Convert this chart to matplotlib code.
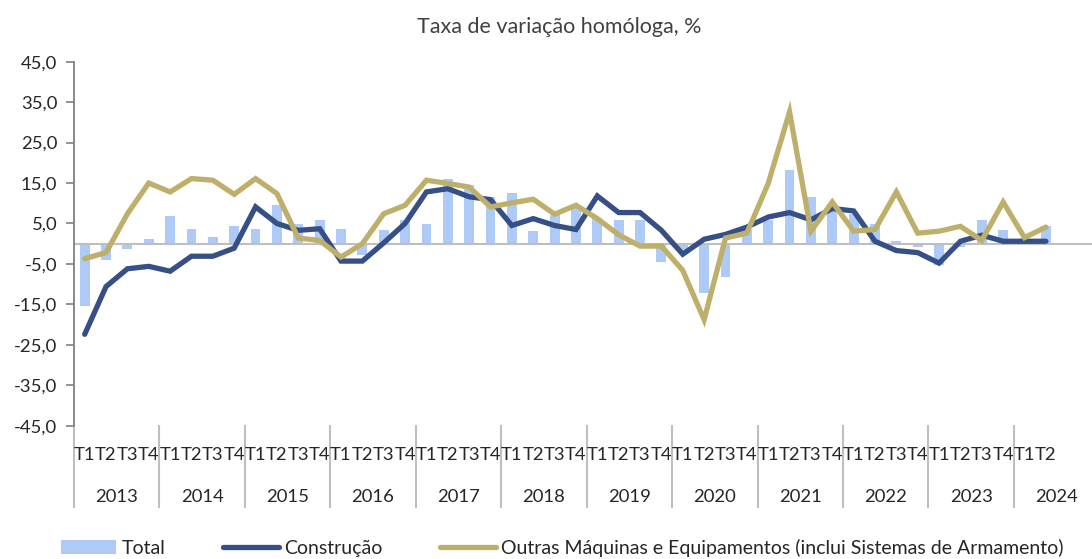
import matplotlib
matplotlib.use("Agg")
import matplotlib.pyplot as plt
from matplotlib.lines import Line2D
from matplotlib.patches import Patch
import numpy as np

years = ["2013", "2014", "2015", "2016", "2017", "2018", "2019", "2020",
         "2021", "2022", "2023", "2024"]
quarters = ["T1", "T2", "T3", "T4"]
n_obs = 46  # 2013T1 .. 2024T2

total = [-15.4, -4.0, -1.4, 1.1, 6.8, 3.7, 1.7, 4.4, 3.7, 9.5, 4.8, 5.8,
         3.7, -2.9, 3.3, 5.8, 4.8, 16.1, 14.6, 11.6, 12.5, 3.2, 7.0, 8.8,
         6.4, 5.8, 5.8, -4.5, -1.7, -12.2, -8.3, 3.3, 5.8, 18.3, 11.6, 8.3,
         7.4, 4.8, 0.6, -0.8, -5.2, -0.8, 5.8, 3.3, 1.5, 4.3]
construcao = [-22.4, -10.6, -6.2, -5.6, -6.8, -3.1, -3.1, -1.1, 9.1, 5.0,
              3.3, 3.7, -4.3, -4.3, 0.2, 5.0, 12.8, 13.6, 11.6, 10.9, 4.5,
              6.2, 4.5, 3.5, 11.8, 7.7, 7.7, 3.3, -2.6, 1.1, 2.3, 4.1, 6.6,
              7.7, 5.9, 8.7, 8.1, 0.6, -1.7, -2.2, -4.8, 0.6, 2.1, 0.6, 0.6,
              0.6]
outras = [-3.7, -2.2, 7.4, 15.0, 12.8, 16.1, 15.7, 12.2, 16.1, 12.4, 1.4,
          0.8, -3.3, 0.0, 7.4, 9.5, 15.7, 14.9, 14.0, 9.1, 10.1, 11.0, 7.3,
          9.5, 6.2, 2.2, -0.6, -0.6, -6.6, -18.8, 1.4, 2.6, 14.9, 32.6, 3.1,
          10.3, 3.1, 3.5, 12.8, 2.6, 3.1, 4.3, 0.8, 10.3, 1.5, 4.1]

title = "Taxa de variação homóloga, %"
labels = ["Total", "Construção",
          "Outras Máquinas e Equipamentos (inclui Sistemas de Armamento)"]

c_total = "#AECBF7"
c_constr = "#364F86"
c_outras = "#BEB06B"
c_grid = "#BFBFBF"
c_text = "#262626"

plt.rcParams["font.family"] = ["Lato", "DejaVu Sans"]
FS = 13.3

W, H = 1092, 559
fig = plt.figure(figsize=(W / 100, H / 100), dpi=100)
left_px, top_px, bottom_px = 74, 61.7, 425.7
n_slots = 48
slot_px = 21.36
ax = fig.add_axes([left_px / W, 1 - bottom_px / H,
                   n_slots * slot_px / W, (bottom_px - top_px) / H])

x = np.arange(n_obs)
ax.bar(x, total, width=0.46, color=c_total, zorder=1)
ax.axhline(0, color=c_grid, lw=1.5, zorder=1.5)
ax.plot(x, construcao, color=c_constr, lw=3.8, solid_capstyle="round",
        solid_joinstyle="miter", zorder=2)
ax.plot(x, outras, color=c_outras, lw=3.8, solid_capstyle="round",
        solid_joinstyle="miter", zorder=3)

ax.set_xlim(-0.5, n_slots - 0.5)
ax.set_ylim(-45, 45)
yt = np.arange(-45, 46, 10)
ax.set_yticks(yt)
ax.set_yticklabels([f"{v:.1f}".replace(".", ",") for v in yt],
                   fontsize=FS, color=c_text)
ax.tick_params(axis="y", length=6, width=1.2, color="#808080", pad=6)
ax.set_xticks([])
for s in ["top", "right", "bottom"]:
    ax.spines[s].set_visible(False)
ax.spines["left"].set_color("#808080")
ax.spines["left"].set_linewidth(1.3)

trans = ax.get_xaxis_transform()
axh = bottom_px - top_px
yq = -(455 - bottom_px) / axh
yy = -(497 - bottom_px) / axh
ysep = -(507 - bottom_px) / axh
for i in range(n_obs):
    ax.text(i, yq, quarters[i % 4], transform=trans, ha="center",
            va="center", fontsize=FS, color=c_text, clip_on=False)
for k, yr in enumerate(years):
    xc = k * 4 + 1.5
    ax.text(xc, yy, yr, transform=trans, ha="center", va="center",
            fontsize=FS, color=c_text, clip_on=False)
for k in range(len(years) + 1):
    xs = k * 4 - 0.5
    ax.plot([xs, xs], [0, ysep], transform=trans, color=c_grid, lw=1.5,
            clip_on=False)

fig.text(559 / W, 1 - 27 / H, title, ha="center", va="center",
         fontsize=15.5, color="#404040")

handles = [Patch(facecolor=c_total, edgecolor="none"),
           Line2D([0], [0], color=c_constr, lw=3.8, solid_capstyle="round"),
           Line2D([0], [0], color=c_outras, lw=3.8, solid_capstyle="round")]
fig.legend(handles, labels, loc="center left",
           bbox_to_anchor=(61 / W, 1 - 548 / H), ncol=3, frameon=False,
           fontsize=14.0, handlelength=2.85, handletextpad=0.25,
           columnspacing=3.0, borderpad=0, borderaxespad=0,
           labelcolor=c_text)

fig.savefig("out.png", dpi=100)
